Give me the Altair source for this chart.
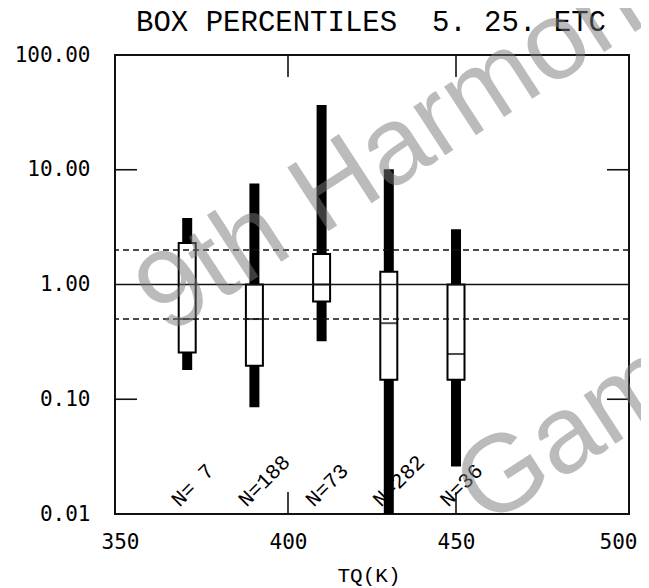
import altair as alt
import pandas as pd

# ---- data ----
tq = [370, 390, 410, 430, 450]
p05 = [0.18, 0.085, 0.32, 0.01, 0.026]
p25 = [0.255, 0.196, 0.71, 0.148, 0.148]
p50 = [0.50, 0.50, 1.0, 0.46, 0.248]
p75 = [2.3, 1.0, 1.84, 1.29, 1.0]
p95 = [3.8, 7.6, 36.7, 10.1, 3.03]
n_labels = ["N= 7", "N=188", "N=73", "N=282", "N=36"]

ref_solid = [1.0]
ref_dashed = [2.0, 0.5]
x_ticks = [350, 400, 450, 500]
x_inner_ticks = [400, 450]
y_ticks = [0.01, 0.1, 1, 10, 100]
y_inner_ticks = [10, 0.1]

TITLE = "BOX PERCENTILES \u00a05. 25. ETC"
XTITLE = "TQ(K)"

W, H = 514, 459
TICK = 22

df = pd.DataFrame({"tq": tq, "p05": p05, "p25": p25, "p50": p50,
                   "p75": p75, "p95": p95, "lab": n_labels})

xs = alt.Scale(domain=[350, 500], nice=False, zero=False)
ys = alt.Scale(type="log", domain=[0.01, 100], nice=False)

xax = alt.Axis(values=x_ticks, format="d", ticks=False, domain=False, grid=False,
               labelFont="DejaVu Sans Mono", labelFontSize=21, labelColor="black",
               labelPadding=17, title=None,
               labelOffset={"condition": {"test": "datum.value == 500", "value": -6},
                            "value": 0})
yax = alt.Axis(values=y_ticks, format=".2f", ticks=False, domain=False, grid=False,
               labelFont="DejaVu Sans Mono", labelFontSize=21, labelColor="black",
               labelPadding=25, title=None)

base = alt.Chart(df)

whisk = base.mark_bar(size=10, color="black").encode(
    x=alt.X("tq:Q", scale=xs, axis=xax),
    y=alt.Y("p05:Q", scale=ys, axis=yax),
    y2="p95:Q",
)
box = base.mark_bar(size=17, fill="white", stroke="black", strokeWidth=2).encode(
    x=alt.X("tq:Q", scale=xs), y=alt.Y("p25:Q", scale=ys), y2="p75:Q")
med = base.mark_tick(orient="horizontal", size=17, thickness=2, color="black").encode(
    x=alt.X("tq:Q", scale=xs), y=alt.Y("p50:Q", scale=ys))

solid = alt.Chart(pd.DataFrame({"v": ref_solid})).mark_rule(
    color="#111", strokeWidth=1.6).encode(y=alt.Y("v:Q", scale=ys))
dashed = alt.Chart(pd.DataFrame({"v": ref_dashed})).mark_rule(
    color="#111", strokeWidth=1.6, strokeDash=[6, 4]).encode(y=alt.Y("v:Q", scale=ys))

xt = pd.DataFrame({"x": x_inner_ticks})
tick_top = alt.Chart(xt).mark_rule(color="#111", strokeWidth=1.6).encode(
    x=alt.X("x:Q", scale=xs), y=alt.value(0), y2=alt.value(TICK))
tick_bot = alt.Chart(xt).mark_rule(color="#111", strokeWidth=1.6).encode(
    x=alt.X("x:Q", scale=xs), y=alt.value(H - TICK), y2=alt.value(H))
yt = pd.DataFrame({"y": y_inner_ticks})
tick_left = alt.Chart(yt).mark_rule(color="#111", strokeWidth=1.6).encode(
    y=alt.Y("y:Q", scale=ys), x=alt.value(0), x2=alt.value(TICK))
tick_right = alt.Chart(yt).mark_rule(color="#111", strokeWidth=1.6).encode(
    y=alt.Y("y:Q", scale=ys), x=alt.value(W - TICK), x2=alt.value(W))

labels = base.mark_text(font="Liberation Mono", fontSize=21, angle=315,
                        align="left", baseline="alphabetic", dx=-11,
                        color="black").encode(
    x=alt.X("tq:Q", scale=xs), y=alt.value(445), text="lab:N")

titles = alt.Chart(pd.DataFrame({"t": [TITLE, XTITLE], "px": [256, 254],
                                 "py": [-24, 527], "fs": [29, 21]})).mark_text(
    font="Liberation Mono", align="center", baseline="alphabetic",
    color="black").encode(
    x=alt.X("px:Q", scale=None), y=alt.Y("py:Q", scale=None), text="t:N",
    size=alt.Size("fs:Q", scale=None, legend=None))

wm = pd.DataFrame({"t": ["9th Harmonic", "Games"],
                   "px": [52, 371], "py": [281, 473]})
water = alt.Chart(wm).mark_text(font="Liberation Sans", fontSize=110, angle=327,
                                align="left", baseline="alphabetic",
                                fill="#7a7a7a", opacity=0.5).encode(
    x=alt.X("px:Q", scale=None), y=alt.Y("py:Q", scale=None), text="t:N")

chart = alt.layer(whisk, box, med, solid, dashed, tick_top, tick_bot,
                  tick_left, tick_right, labels, titles, water).properties(
    width=W, height=H,
    autosize=alt.AutoSizeParams(type="none"),
    padding={"left": 107, "top": 47, "right": 12, "bottom": 74},
    background="white",
).configure_view(stroke="#111", strokeWidth=2)

chart.save("out.html", embed_options={"renderer": "svg", "actions": False})
